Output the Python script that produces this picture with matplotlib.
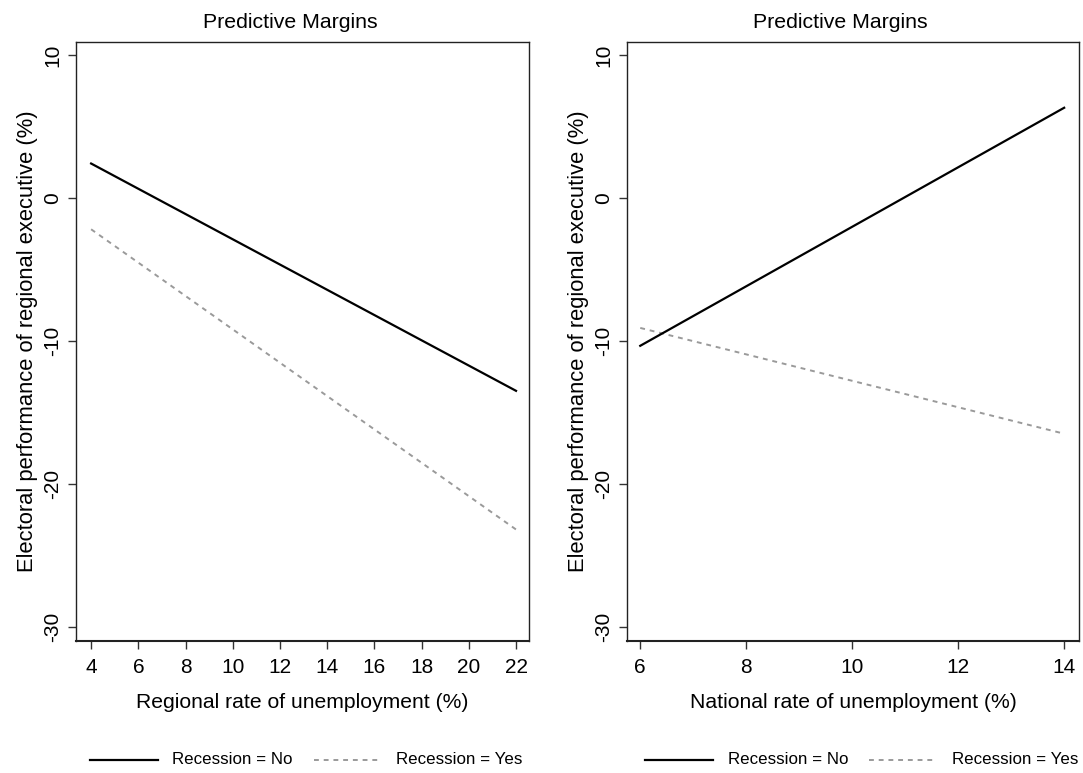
import matplotlib
matplotlib.use("Agg")
import matplotlib.pyplot as plt
from matplotlib.lines import Line2D

plt.rcParams['font.family'] = ['Liberation Sans', 'DejaVu Sans']

# Regional unemployment panel
regional_x = [4, 22]
regional_no = [2.4, -13.5]
regional_yes = [-2.2, -23.2]
regional_ticks = [4, 6, 8, 10, 12, 14, 16, 18, 20, 22]

# National unemployment panel
national_x = [6, 14]
national_no = [-10.35, 6.3]
national_yes = [-9.1, -16.5]
national_ticks = [6, 8, 10, 12, 14]

y_ticks = [10, 0, -10, -20, -30]
y_label = "Electoral performance of regional executive (%)"
title = "Predictive Margins"
legend_labels = ["Recession = No", "Recession = Yes"]

NO_STYLE = dict(color='black', lw=1.6)
YES_STYLE = dict(color='#9a9a9a', lw=1.4, linestyle=(0, (2.5, 2.5)))

fig = plt.figure(figsize=(10.83, 7.73), dpi=100)

W, H = 1083, 773
def rect(x0, x1, y0, y1):
    return [x0 / W, 1 - y1 / H, (x1 - x0) / W, (y1 - y0) / H]

def fx(px):
    return px / W

def fy(py):
    return 1 - py / H

ax1 = fig.add_axes(rect(76, 529, 42, 641))
ax2 = fig.add_axes(rect(627, 1079, 42, 641))

panels = [
    (ax1, regional_x, regional_no, regional_yes, regional_ticks, (3.36, 22.55),
     "Regional rate of unemployment (%)", 290),
    (ax2, national_x, national_no, national_yes, national_ticks, (5.75, 14.28),
     "National rate of unemployment (%)", 840),
]

for ax, x, no, yes, xt, xlim, xlabel, title_x in panels:
    ax.plot(x, yes, **YES_STYLE)
    ax.plot(x, no, **NO_STYLE)
    ax.set_xlim(*xlim)
    ax.set_ylim(-31.0, 10.9)
    ax.set_xticks(xt)
    ax.set_yticks(y_ticks)
    ax.set_yticklabels([str(v) for v in y_ticks], rotation=90, va='center')
    ax.tick_params(axis='both', direction='out', length=6, width=1, labelsize=15,
                   color='#333333', pad=4)
    ax.tick_params(axis='x', pad=6)
    for s in ax.spines.values():
        s.set_linewidth(1.0)
        s.set_color('#222222')
    ax.spines['bottom'].set_linewidth(1.5)
    ax.set_xlabel(xlabel, fontsize=15.2, labelpad=12)
    ax.set_ylabel(y_label, fontsize=15.8, labelpad=4)
    # title centred over the whole panel, including the y-label area
    fig.text(fx(title_x), fy(22), title, fontsize=15.3, ha='center', va='center')

# legend rows under each panel, placed in figure pixels
legend_rows = [
    ((90, 158, 172), (314, 378, 396)),
    ((645, 713, 728), (869, 933, 952)),
]
ly = 760
for (n0, n1, nt), (y0, y1, yt) in legend_rows:
    fig.add_artist(Line2D([fx(n0), fx(n1)], [fy(ly), fy(ly)], **NO_STYLE))
    fig.add_artist(Line2D([fx(y0), fx(y1)], [fy(ly), fy(ly)], **YES_STYLE))
    fig.text(fx(nt), fy(ly), legend_labels[0], fontsize=12.2, va='center', ha='left')
    fig.text(fx(yt), fy(ly), legend_labels[1], fontsize=12.2, va='center', ha='left')

fig.savefig("out.png", dpi=100, facecolor='white')
